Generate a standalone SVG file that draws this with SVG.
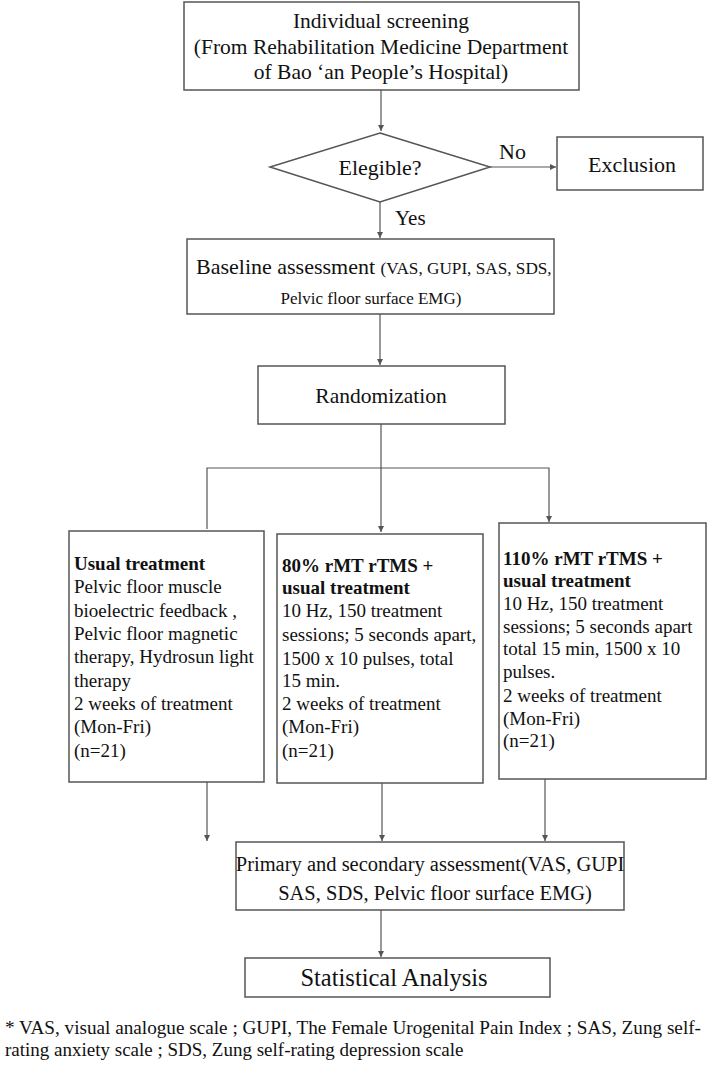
<svg xmlns="http://www.w3.org/2000/svg" width="708" height="1069" viewBox="0 0 708 1069">
<defs>
<marker id="ah" markerWidth="8" markerHeight="8" refX="6" refY="3" orient="auto" markerUnits="userSpaceOnUse">
<path d="M0,0 L6,3 L0,6 Z" fill="#555"/>
</marker>
<style>
.box{fill:#fff;stroke:#555;stroke-width:1.5}
.ln{fill:none;stroke:#555;stroke-width:1.2}
.t{font-family:"Liberation Serif","Times New Roman",serif;fill:#111}
.c{text-anchor:middle}
.b{font-weight:bold}
.g{font-size:19px}
</style>
</defs>
<rect width="708" height="1069" fill="#fff"/>
<g id="connectors">
<line class="ln" x1="381" y1="90" x2="381" y2="131" marker-end="url(#ah)"/>
<line class="ln" x1="490" y1="167" x2="556" y2="167" marker-end="url(#ah)"/>
<line class="ln" x1="380" y1="202" x2="380" y2="238" marker-end="url(#ah)"/>
<line class="ln" x1="380" y1="314" x2="380" y2="365" marker-end="url(#ah)"/>
<line class="ln" x1="381" y1="424" x2="381" y2="532" marker-end="url(#ah)"/>
<polyline class="ln" points="207,529 207,468 549,468 549,522" marker-end="url(#ah)"/>
<line class="ln" x1="207" y1="782" x2="207" y2="841" marker-end="url(#ah)"/>
<line class="ln" x1="382" y1="783" x2="382" y2="841" marker-end="url(#ah)"/>
<line class="ln" x1="545" y1="779" x2="545" y2="841" marker-end="url(#ah)"/>
<line class="ln" x1="381" y1="910" x2="381" y2="957" marker-end="url(#ah)"/>
</g>
<g id="screening">
<rect class="box" x="184" y="2" width="395" height="88"/>
<text class="t c" x="381" y="28" font-size="21.5">Individual screening</text>
<text class="t c" x="381" y="54" font-size="21.5">(From Rehabilitation Medicine Department</text>
<text class="t c" x="381" y="79" font-size="21.5">of Bao ‘an People’s Hospital)</text>
</g>
<g id="eligible">
<polygon class="box" points="380,133 490,167 380,202 270,167"/>
<text class="t c" x="380" y="175" font-size="22">Elegible?</text>
<text class="t" x="499" y="159" font-size="22">No</text>
<text class="t" x="395" y="225" font-size="21">Yes</text>
</g>
<g id="exclusion">
<rect class="box" x="557" y="137" width="146" height="53"/>
<text class="t c" x="632" y="172" font-size="22">Exclusion</text>
</g>
<g id="baseline">
<rect class="box" x="187" y="239" width="367" height="75"/>
<text class="t" x="196" y="274" font-size="22">Baseline assessment <tspan font-size="17.2">(VAS, GUPI, SAS, SDS,</tspan></text>
<text class="t c" x="371" y="304" font-size="17">Pelvic floor surface EMG)</text>
</g>
<g id="randomization">
<rect class="box" x="258" y="366" width="247" height="58"/>
<text class="t c" x="381" y="403" font-size="21.5">Randomization</text>
</g>
<g id="usual">
<rect class="box" x="69" y="531" width="195" height="251"/>
<text class="t g b" x="74" y="570">Usual treatment</text>
<text class="t g" x="74" y="593">Pelvic floor muscle</text>
<text class="t g" x="74" y="617">bioelectric feedback ,</text>
<text class="t g" x="74" y="640">Pelvic floor magnetic</text>
<text class="t g" x="74" y="663">therapy, Hydrosun light</text>
<text class="t g" x="74" y="687">therapy</text>
<text class="t g" x="74" y="710">2 weeks of treatment</text>
<text class="t g" x="74" y="733">(Mon-Fri)</text>
<text class="t g" x="74" y="757">(n=21)</text>
</g>
<g id="rtms80">
<rect class="box" x="277" y="534" width="206" height="249"/>
<text class="t g b" x="282" y="572">80% rMT rTMS +</text>
<text class="t g b" x="282" y="594">usual treatment</text>
<text class="t g" x="282" y="617">10 Hz, 150 treatment</text>
<text class="t g" x="282" y="641">sessions; 5 seconds apart,</text>
<text class="t g" x="282" y="665">1500 x 10 pulses, total</text>
<text class="t g" x="282" y="687">15 min.</text>
<text class="t g" x="282" y="710">2 weeks of treatment</text>
<text class="t g" x="282" y="733">(Mon-Fri)</text>
<text class="t g" x="282" y="757">(n=21)</text>
</g>
<g id="rtms110">
<rect class="box" x="499" y="523" width="207" height="256"/>
<text class="t g b" x="503" y="565">110% rMT rTMS +</text>
<text class="t g b" x="503" y="587">usual treatment</text>
<text class="t g" x="503" y="610">10 Hz, 150 treatment</text>
<text class="t g" x="503" y="633">sessions; 5 seconds apart</text>
<text class="t g" x="503" y="655">total 15 min, 1500 x 10</text>
<text class="t g" x="503" y="678">pulses.</text>
<text class="t g" x="503" y="702">2 weeks of treatment</text>
<text class="t g" x="503" y="725">(Mon-Fri)</text>
<text class="t g" x="503" y="747">(n=21)</text>
</g>
<g id="primary">
<rect class="box" x="236" y="842" width="388" height="68"/>
<text class="t c" x="430" y="871" font-size="20.5">Primary and secondary assessment(VAS, GUPI</text>
<text class="t c" x="435" y="900" font-size="20.5">SAS, SDS, Pelvic floor surface EMG)</text>
</g>
<g id="statistical">
<rect class="box" x="245" y="958" width="305" height="39"/>
<text class="t c" x="394" y="986" font-size="24.5">Statistical Analysis</text>
</g>
<g id="footnote">
<text class="t" x="5" y="1034" font-size="19" textLength="696" lengthAdjust="spacingAndGlyphs">* VAS, visual analogue scale ; GUPI, The Female Urogenital Pain Index ; SAS, Zung self-</text>
<text class="t" x="5" y="1056" font-size="19">rating anxiety scale ; SDS, Zung self-rating depression scale</text>
</g>
</svg>
